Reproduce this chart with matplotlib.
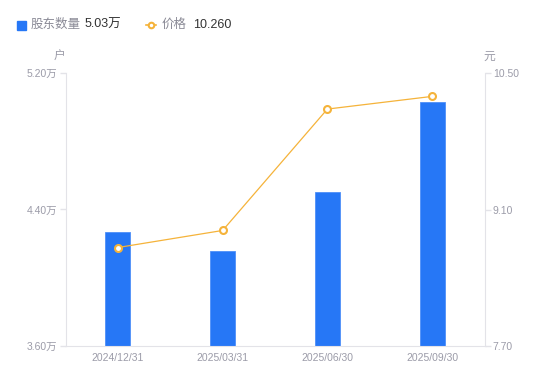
import matplotlib
matplotlib.use('Agg')
import matplotlib.pyplot as plt
from matplotlib.lines import Line2D

plt.rcParams['font.family'] = ['Liberation Sans', 'Noto Sans CJK SC', 'DejaVu Sans']

# data
dates = ['2024/12/31', '2025/03/31', '2025/06/30', '2025/09/30']
holders = [4.266, 4.155, 4.50, 5.03]      # 万户
price = [8.71, 8.885, 10.13, 10.26]       # 元
left_ticks = [3.60, 4.40, 5.20]
right_ticks = [7.70, 9.10, 10.50]

blue = '#2677F6'
orange = '#F5B33A'
grey_txt = '#9B9BA8'
grey_line = '#E3E3E8'

fig = plt.figure(figsize=(5.5, 3.81), dpi=100)
ax = fig.add_axes([65.5 / 550, 35 / 381, 419 / 550, 273 / 381])
ax2 = ax.twinx()

x = list(range(len(dates)))
ax.bar(x, holders, width=0.24, color=blue, edgecolor='#4F8FF8', linewidth=0.6, zorder=2)
ax.set_xlim(-0.5, 3.5)
ax.set_ylim(left_ticks[0], left_ticks[-1])
ax.set_yticks(left_ticks)
ax.set_yticklabels(['%.2f万' % v for v in left_ticks])
ax.set_xticks(x)
ax.set_xticklabels(dates)

ax2.plot(x, price, color=orange, linewidth=0.9, marker='o', markersize=5,
         markerfacecolor='white', markeredgecolor=orange, markeredgewidth=1.5, zorder=3)
ax2.set_ylim(right_ticks[0], right_ticks[-1])
ax2.set_yticks(right_ticks)
ax2.set_yticklabels(['%.2f' % v for v in right_ticks])

for a in (ax, ax2):
    for s in a.spines.values():
        s.set_visible(False)
    a.tick_params(labelsize=7.5, labelcolor=grey_txt, color=grey_line, length=4, width=1, pad=2)
ax.spines['left'].set_visible(True)
ax.spines['left'].set_color(grey_line)
ax.spines['bottom'].set_visible(True)
ax.spines['bottom'].set_color(grey_line)
ax2.spines['right'].set_visible(True)
ax2.spines['right'].set_color(grey_line)
ax.tick_params(axis='x', length=0, pad=5)

# unit labels
fig.text(59 / 550, 1 - 57 / 381, '户', color=grey_txt, fontsize=8.5, ha='center', va='center')
fig.text(489 / 550, 1 - 57 / 381, '元', color=grey_txt, fontsize=8.5, ha='center', va='center')

# legend row
ly = 1 - 25 / 381
fig.patches.append(plt.Rectangle((17 / 550, 1 - 29.5 / 381), 9 / 550, 9 / 381,
                                 transform=fig.transFigure, color=blue))
fig.text(31 / 550, ly, '股东数量', color='#8A8A96', fontsize=9, va='center')
fig.text(85 / 550, ly, '5.03万', color='#333333', fontsize=9, va='center')
fig.lines.append(Line2D([146 / 550, 155.5 / 550], [ly, ly], transform=fig.transFigure,
                        color=orange, linewidth=1.2))
fig.lines.append(Line2D([150.7 / 550], [ly], transform=fig.transFigure,
                        color=orange, marker='o', markersize=4, markerfacecolor='white',
                        markeredgecolor=orange, markeredgewidth=1.5))
fig.text(162 / 550, ly, '价格', color='#8A8A96', fontsize=9, va='center')
fig.text(193 / 550, ly, '10.260', color='#333333', fontsize=9, va='center')

fig.savefig('out.png', dpi=100)
